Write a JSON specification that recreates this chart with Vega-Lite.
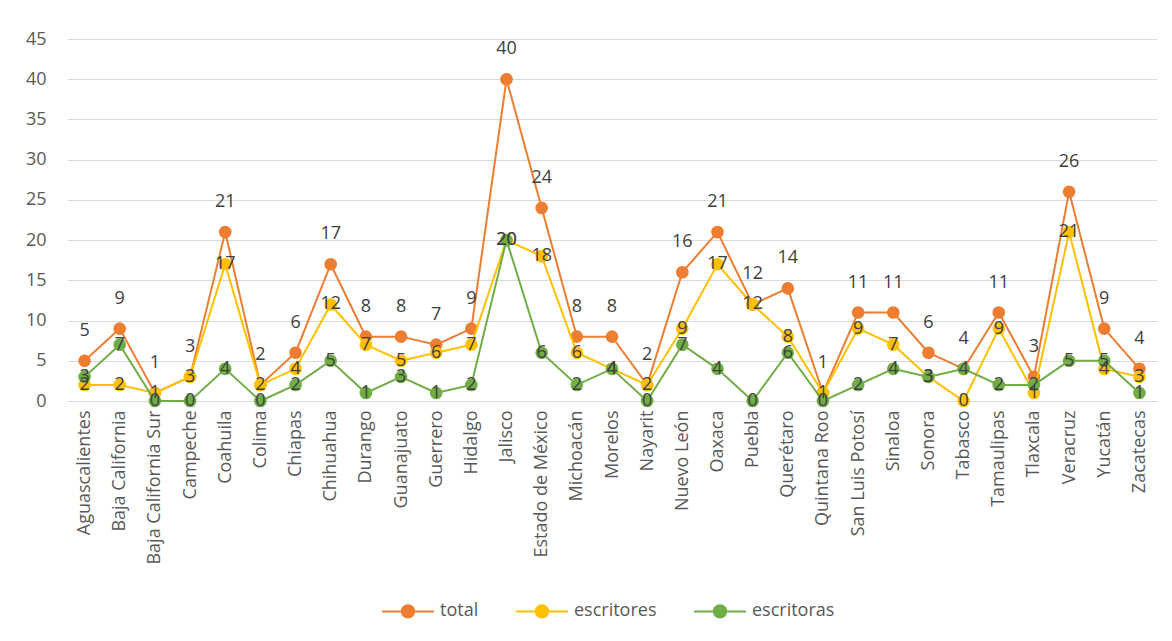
{
  "$schema": "https://vega.github.io/schema/vega-lite/v6.json",
  "width": 1090,
  "height": 362,
  "autosize": "none",
  "padding": {"left": 67, "top": 39, "right": 15, "bottom": 240},
  "background": "#ffffff",
  "config": {
    "view": {"stroke": null},
    "font": "Open Sans",
    "axis": {"labelFont": "Open Sans", "labelFontSize": 18, "labelColor": "#595959", "title": null}
  },
  "data": {
    "values": [
      {"estado": "Aguascalientes", "serie": "total", "valor": 5},
      {"estado": "Baja California", "serie": "total", "valor": 9},
      {"estado": "Baja California Sur", "serie": "total", "valor": 1},
      {"estado": "Campeche", "serie": "total", "valor": 3},
      {"estado": "Coahuila", "serie": "total", "valor": 21},
      {"estado": "Colima", "serie": "total", "valor": 2},
      {"estado": "Chiapas", "serie": "total", "valor": 6},
      {"estado": "Chihuahua", "serie": "total", "valor": 17},
      {"estado": "Durango", "serie": "total", "valor": 8},
      {"estado": "Guanajuato", "serie": "total", "valor": 8},
      {"estado": "Guerrero", "serie": "total", "valor": 7},
      {"estado": "Hidalgo", "serie": "total", "valor": 9},
      {"estado": "Jalisco", "serie": "total", "valor": 40},
      {"estado": "Estado de México", "serie": "total", "valor": 24},
      {"estado": "Michoacán", "serie": "total", "valor": 8},
      {"estado": "Morelos", "serie": "total", "valor": 8},
      {"estado": "Nayarit", "serie": "total", "valor": 2},
      {"estado": "Nuevo León", "serie": "total", "valor": 16},
      {"estado": "Oaxaca", "serie": "total", "valor": 21},
      {"estado": "Puebla", "serie": "total", "valor": 12},
      {"estado": "Querétaro", "serie": "total", "valor": 14},
      {"estado": "Quintana Roo", "serie": "total", "valor": 1},
      {"estado": "San Luis Potosí", "serie": "total", "valor": 11},
      {"estado": "Sinaloa", "serie": "total", "valor": 11},
      {"estado": "Sonora", "serie": "total", "valor": 6},
      {"estado": "Tabasco", "serie": "total", "valor": 4},
      {"estado": "Tamaulipas", "serie": "total", "valor": 11},
      {"estado": "Tlaxcala", "serie": "total", "valor": 3},
      {"estado": "Veracruz", "serie": "total", "valor": 26},
      {"estado": "Yucatán", "serie": "total", "valor": 9},
      {"estado": "Zacatecas", "serie": "total", "valor": 4},
      {"estado": "Aguascalientes", "serie": "escritores", "valor": 2},
      {"estado": "Baja California", "serie": "escritores", "valor": 2},
      {"estado": "Baja California Sur", "serie": "escritores", "valor": 1},
      {"estado": "Campeche", "serie": "escritores", "valor": 3},
      {"estado": "Coahuila", "serie": "escritores", "valor": 17},
      {"estado": "Colima", "serie": "escritores", "valor": 2},
      {"estado": "Chiapas", "serie": "escritores", "valor": 4},
      {"estado": "Chihuahua", "serie": "escritores", "valor": 12},
      {"estado": "Durango", "serie": "escritores", "valor": 7},
      {"estado": "Guanajuato", "serie": "escritores", "valor": 5},
      {"estado": "Guerrero", "serie": "escritores", "valor": 6},
      {"estado": "Hidalgo", "serie": "escritores", "valor": 7},
      {"estado": "Jalisco", "serie": "escritores", "valor": 20},
      {"estado": "Estado de México", "serie": "escritores", "valor": 18},
      {"estado": "Michoacán", "serie": "escritores", "valor": 6},
      {"estado": "Morelos", "serie": "escritores", "valor": 4},
      {"estado": "Nayarit", "serie": "escritores", "valor": 2},
      {"estado": "Nuevo León", "serie": "escritores", "valor": 9},
      {"estado": "Oaxaca", "serie": "escritores", "valor": 17},
      {"estado": "Puebla", "serie": "escritores", "valor": 12},
      {"estado": "Querétaro", "serie": "escritores", "valor": 8},
      {"estado": "Quintana Roo", "serie": "escritores", "valor": 1},
      {"estado": "San Luis Potosí", "serie": "escritores", "valor": 9},
      {"estado": "Sinaloa", "serie": "escritores", "valor": 7},
      {"estado": "Sonora", "serie": "escritores", "valor": 3},
      {"estado": "Tabasco", "serie": "escritores", "valor": 0},
      {"estado": "Tamaulipas", "serie": "escritores", "valor": 9},
      {"estado": "Tlaxcala", "serie": "escritores", "valor": 1},
      {"estado": "Veracruz", "serie": "escritores", "valor": 21},
      {"estado": "Yucatán", "serie": "escritores", "valor": 4},
      {"estado": "Zacatecas", "serie": "escritores", "valor": 3},
      {"estado": "Aguascalientes", "serie": "escritoras", "valor": 3},
      {"estado": "Baja California", "serie": "escritoras", "valor": 7},
      {"estado": "Baja California Sur", "serie": "escritoras", "valor": 0},
      {"estado": "Campeche", "serie": "escritoras", "valor": 0},
      {"estado": "Coahuila", "serie": "escritoras", "valor": 4},
      {"estado": "Colima", "serie": "escritoras", "valor": 0},
      {"estado": "Chiapas", "serie": "escritoras", "valor": 2},
      {"estado": "Chihuahua", "serie": "escritoras", "valor": 5},
      {"estado": "Durango", "serie": "escritoras", "valor": 1},
      {"estado": "Guanajuato", "serie": "escritoras", "valor": 3},
      {"estado": "Guerrero", "serie": "escritoras", "valor": 1},
      {"estado": "Hidalgo", "serie": "escritoras", "valor": 2},
      {"estado": "Jalisco", "serie": "escritoras", "valor": 20},
      {"estado": "Estado de México", "serie": "escritoras", "valor": 6},
      {"estado": "Michoacán", "serie": "escritoras", "valor": 2},
      {"estado": "Morelos", "serie": "escritoras", "valor": 4},
      {"estado": "Nayarit", "serie": "escritoras", "valor": 0},
      {"estado": "Nuevo León", "serie": "escritoras", "valor": 7},
      {"estado": "Oaxaca", "serie": "escritoras", "valor": 4},
      {"estado": "Puebla", "serie": "escritoras", "valor": 0},
      {"estado": "Querétaro", "serie": "escritoras", "valor": 6},
      {"estado": "Quintana Roo", "serie": "escritoras", "valor": 0},
      {"estado": "San Luis Potosí", "serie": "escritoras", "valor": 2},
      {"estado": "Sinaloa", "serie": "escritoras", "valor": 4},
      {"estado": "Sonora", "serie": "escritoras", "valor": 3},
      {"estado": "Tabasco", "serie": "escritoras", "valor": 4},
      {"estado": "Tamaulipas", "serie": "escritoras", "valor": 2},
      {"estado": "Tlaxcala", "serie": "escritoras", "valor": 2},
      {"estado": "Veracruz", "serie": "escritoras", "valor": 5},
      {"estado": "Yucatán", "serie": "escritoras", "valor": 5},
      {"estado": "Zacatecas", "serie": "escritoras", "valor": 1}
    ]
  },
  "encoding": {
    "x": {
      "field": "estado",
      "type": "nominal",
      "sort": null,
      "scale": {"type": "point", "padding": 0.5},
      "axis": {
        "labelAngle": -90,
        "labelAlign": "right",
        "labelBaseline": "middle",
        "labelPadding": 9,
        "ticks": false,
        "domain": true,
        "domainColor": "#D9D9D9",
        "domainWidth": 1,
        "grid": false
      }
    },
    "y": {
      "field": "valor",
      "type": "quantitative",
      "scale": {"domain": [0, 45], "nice": false, "zero": true},
      "axis": {
        "values": [0, 5, 10, 15, 20, 25, 30, 35, 40, 45],
        "grid": true,
        "gridColor": "#D9D9D9",
        "gridWidth": 1,
        "domain": false,
        "ticks": false,
        "labelPadding": 21
      }
    },
    "color": {
      "field": "serie",
      "type": "nominal",
      "title": null,
      "scale": {
        "domain": ["total", "escritores", "escritoras"],
        "range": ["#ED7D31", "#FFC000", "#70AD47"]
      },
      "legend": {
        "orient": "none",
        "direction": "horizontal",
        "legendX": 314,
        "legendY": 545,
        "symbolType": "M-1,0L1,0M-0.237,0A0.237,0.237,0,1,1,0.237,0A0.237,0.237,0,1,1,-0.237,0Z",
        "symbolSize": 2704,
        "symbolStrokeWidth": 2,
        "labelFont": "Open Sans",
        "labelFontSize": 18,
        "labelColor": "#595959",
        "labelOffset": 5,
        "columnPadding": 33,
        "encode": {
          "symbols": {
            "update": {
              "fill": {"scale": "color", "field": "value"},
              "stroke": {"scale": "color", "field": "value"},
              "opacity": {"value": 1},
              "fillOpacity": {"value": 1}
            }
          }
        }
      }
    }
  },
  "layer": [
    {
      "transform": [{"filter": "datum.serie === 'total'"}],
      "mark": {"type": "line", "strokeWidth": 2}
    },
    {
      "transform": [{"filter": "datum.serie === 'total'"}],
      "mark": {"type": "point", "filled": true, "size": 160, "opacity": 1}
    },
    {
      "transform": [{"filter": "datum.serie === 'escritores'"}],
      "mark": {"type": "line", "strokeWidth": 2}
    },
    {
      "transform": [{"filter": "datum.serie === 'escritores'"}],
      "mark": {"type": "point", "filled": true, "size": 160, "opacity": 1}
    },
    {
      "transform": [{"filter": "datum.serie === 'escritoras'"}],
      "mark": {"type": "line", "strokeWidth": 2}
    },
    {
      "transform": [{"filter": "datum.serie === 'escritoras'"}],
      "mark": {"type": "point", "filled": true, "size": 160, "opacity": 1}
    },
    {
      "transform": [{"filter": "datum.serie === 'total'"}],
      "mark": {"type": "text", "dy": -30, "font": "Open Sans", "fontSize": 18, "baseline": "middle", "align": "center"},
      "encoding": {"text": {"field": "valor"}, "color": {"value": "#404040"}}
    },
    {
      "transform": [{"filter": "datum.serie === 'escritores'"}],
      "mark": {"type": "text", "font": "Open Sans", "fontSize": 18, "baseline": "middle", "align": "center"},
      "encoding": {"text": {"field": "valor"}, "color": {"value": "#404040"}}
    },
    {
      "transform": [{"filter": "datum.serie === 'escritoras'"}],
      "mark": {"type": "text", "font": "Open Sans", "fontSize": 18, "baseline": "middle", "align": "center"},
      "encoding": {"text": {"field": "valor"}, "color": {"value": "#404040"}}
    }
  ]
}
